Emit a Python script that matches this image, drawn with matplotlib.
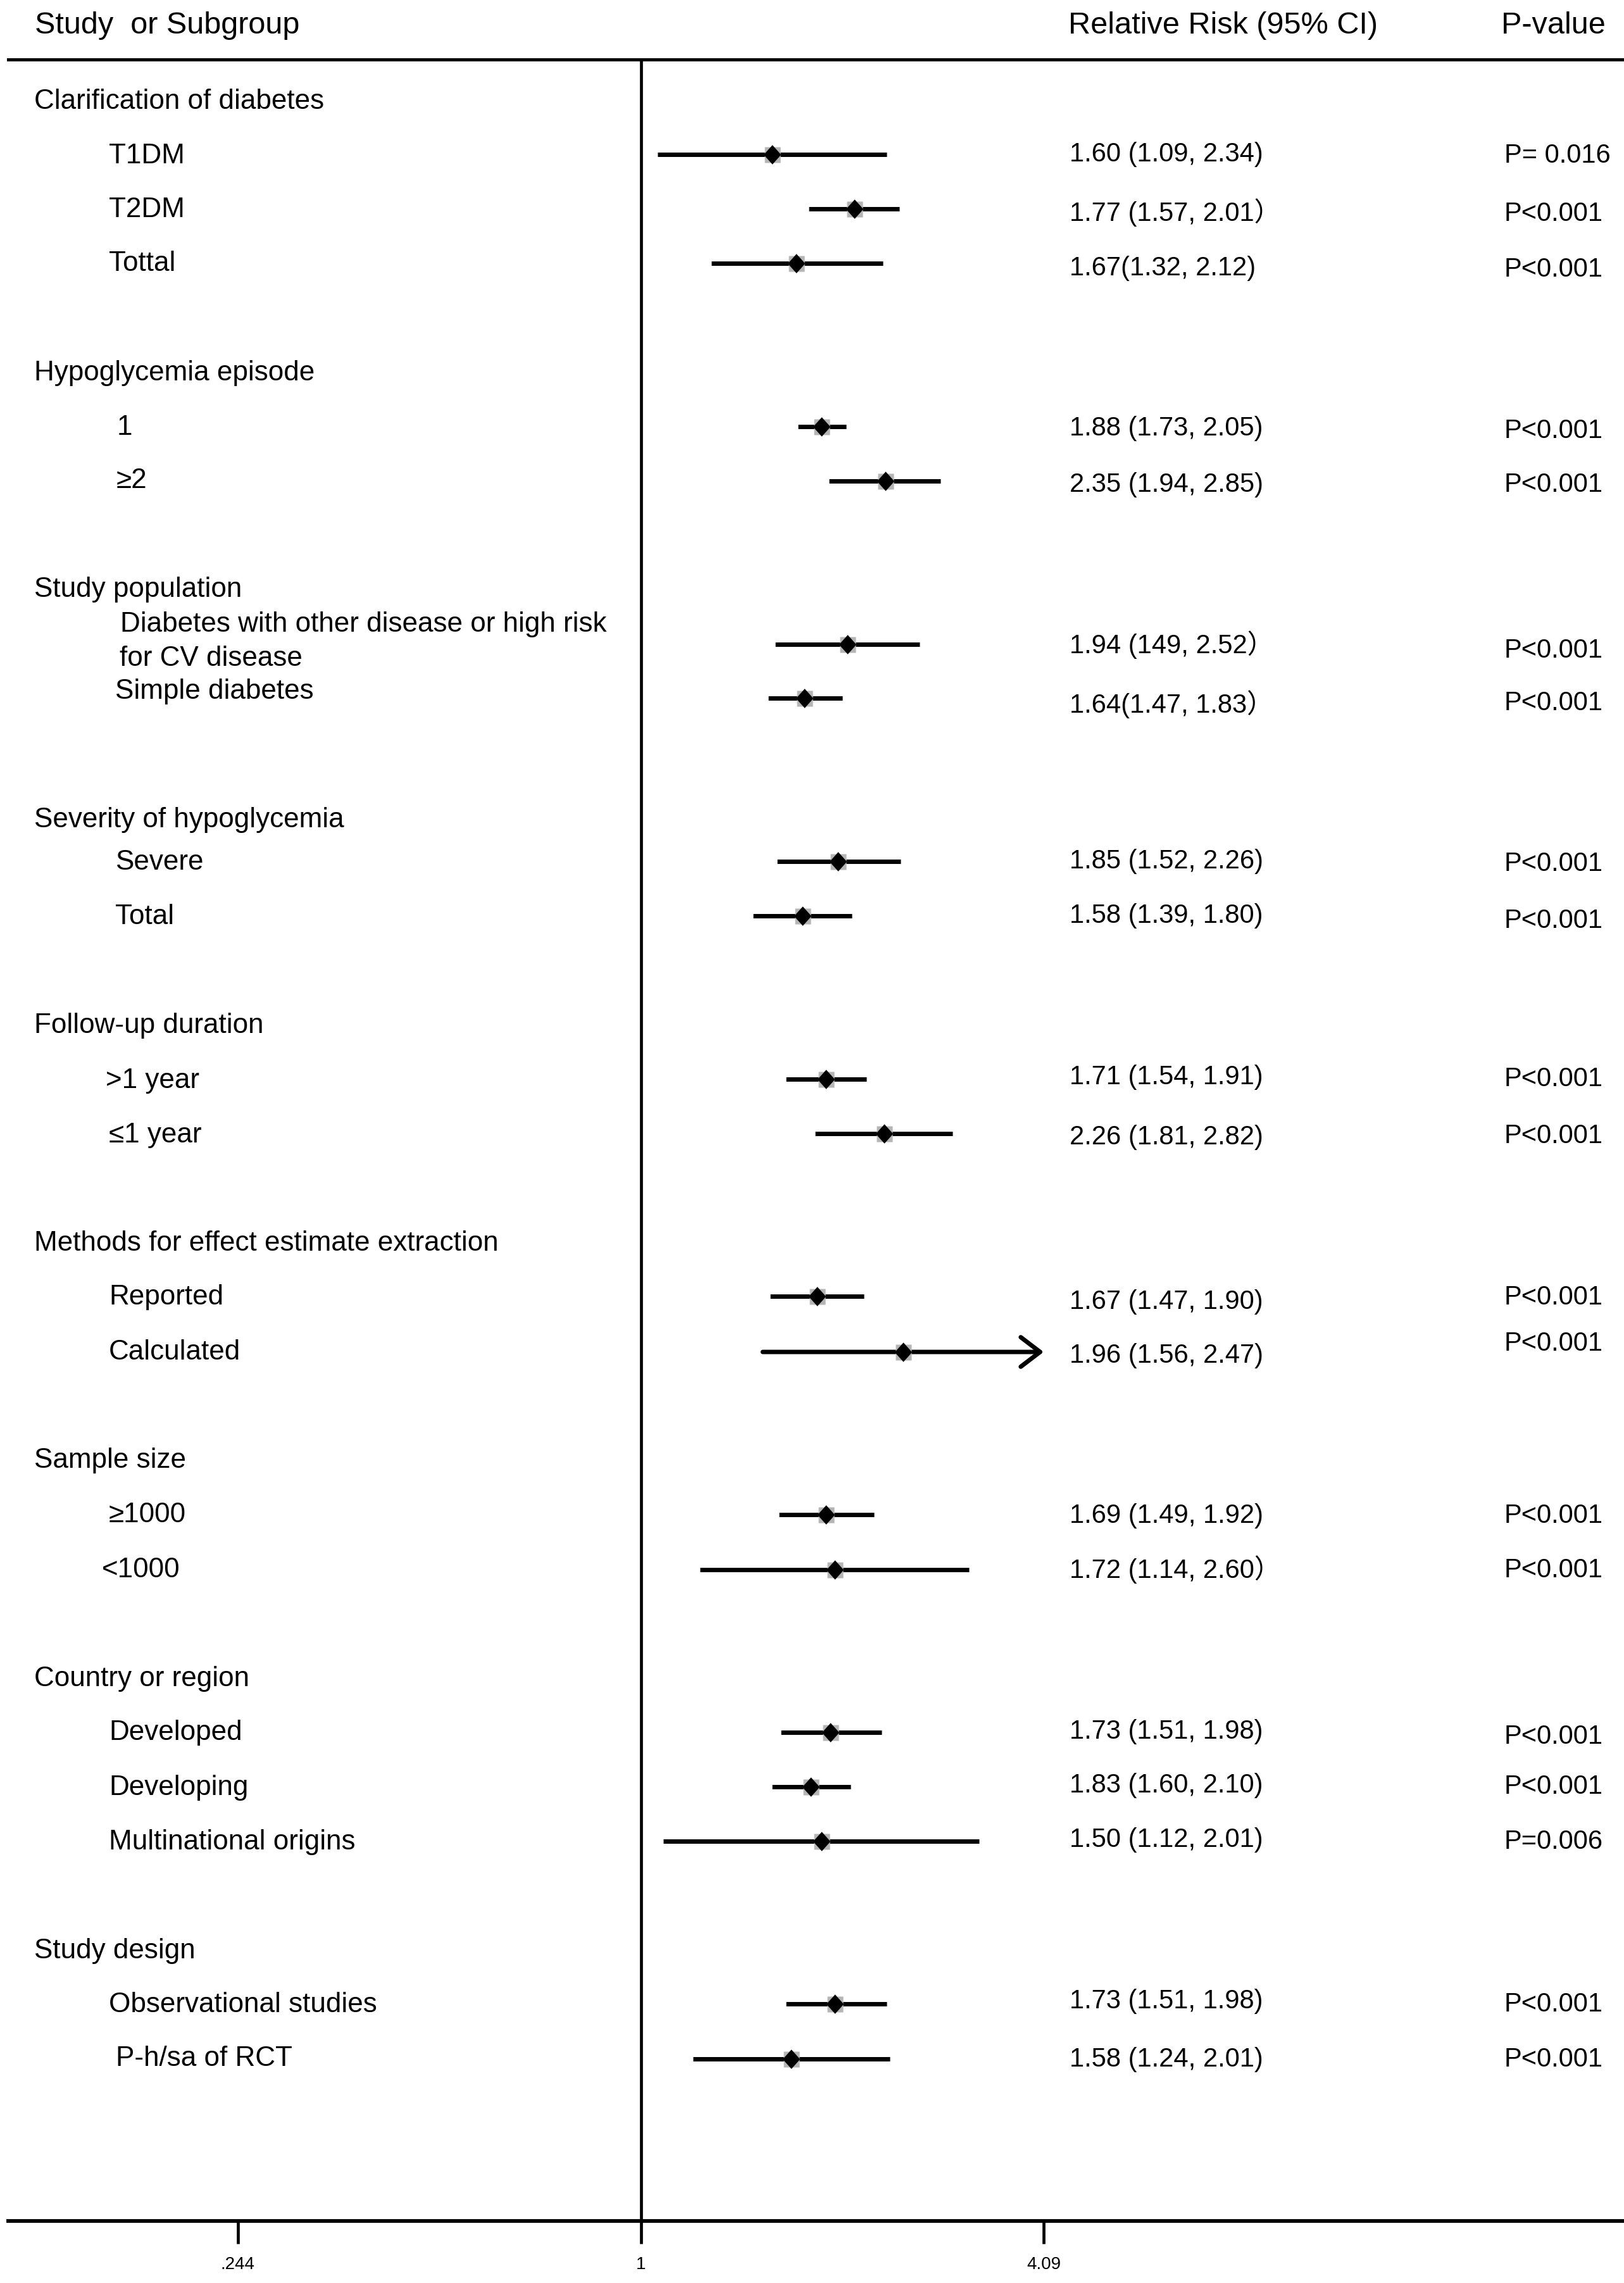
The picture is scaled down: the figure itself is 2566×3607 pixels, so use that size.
import numpy as np
import matplotlib
matplotlib.use("Agg")
import matplotlib.pyplot as plt
from matplotlib.ticker import NullLocator

plt.rcParams['font.family'] = ['Liberation Sans', 'Noto Sans CJK SC', 'DejaVu Sans']

# ---- data ----
groups = ["Clarification of diabetes", "Hypoglycemia episode", "Study population",
          "Severity of hypoglycemia", "Follow-up duration",
          "Methods for effect estimate extraction", "Sample size",
          "Country or region", "Study design"]

labels = ["T1DM", "T2DM", "Tottal", "1", "\u22652",
          "Diabetes with other disease or high risk\nfor CV disease", "Simple diabetes",
          "Severe", "Total", ">1 year", "\u22641 year", "Reported", "Calculated",
          "\u22651000", "<1000", "Developed", "Developing", "Multinational origins",
          "Observational studies", "P-h/sa of RCT"]

# plotted estimates (as drawn on the log axis)
rr_point = [1.58, 2.11, 1.72, 1.88, 2.35, 2.06, 1.77, 1.99, 1.76, 1.91, 2.34,
            1.85, 2.50, 1.91, 1.97, 1.94, 1.81, 1.88, 1.97, 1.69]
rr_low = [1.06, 1.80, 1.28, 1.73, 1.93, 1.60, 1.56, 1.61, 1.48, 1.66, 1.84,
          1.57, 1.53, 1.62, 1.23, 1.63, 1.58, 1.08, 1.66, 1.20]
rr_high = [2.36, 2.47, 2.33, 2.05, 2.85, 2.65, 2.02, 2.48, 2.09, 2.20, 2.97,
           2.18, 4.09, 2.26, 3.15, 2.32, 2.08, 3.26, 2.36, 2.39]
arrow_row = "Calculated"   # upper limit runs off the axis

rr_text = ["1.60 (1.09, 2.34)", "1.77 (1.57, 2.01\uff09", "1.67(1.32, 2.12)",
           "1.88 (1.73, 2.05)", "2.35 (1.94, 2.85)", "1.94 (149, 2.52\uff09",
           "1.64(1.47, 1.83\uff09", "1.85 (1.52, 2.26)", "1.58 (1.39, 1.80)",
           "1.71 (1.54, 1.91)", "2.26 (1.81, 2.82)", "1.67 (1.47, 1.90)",
           "1.96 (1.56, 2.47)", "1.69 (1.49, 1.92)", "1.72 (1.14, 2.60\uff09",
           "1.73 (1.51, 1.98)", "1.83 (1.60, 2.10)", "1.50 (1.12, 2.01)",
           "1.73 (1.51, 1.98)", "1.58 (1.24, 2.01)"]
p_text = ["P= 0.016"] + ["P<0.001"] * 16 + ["P=0.006"] + ["P<0.001"] * 2

tick_vals = [0.244, 1, 4.09]
tick_labels = [".244", "1", "4.09"]

# ---- layout (image pixels) ----
W, H = 2566, 3607
group_y = [157, 586, 928, 1292, 1617, 1961, 2304, 2649, 3079]
label_x = [172, 172, 172, 185, 184, 190, 182, 182, 182, 167, 172, 172, 172,
           172, 161, 172, 172, 172, 172, 183]
label_y = [243, 328, 413, 672, 756, 983, 1089, 1359, 1445, 1704, 1790, 2046, 2133,
           2390, 2477, 2734, 2821, 2907, 3164, 3249]
mark_y = [244, 330, 416, 674, 760, 1018, 1103, 1361, 1447, 1705, 1791, 2048, 2136,
          2393, 2480, 2737, 2823, 2909, 3166, 3253]
rr_y = [240, 334, 420, 673, 762, 1017, 1111, 1357, 1443, 1698, 1793, 2053, 2138,
        2391, 2478, 2732, 2817, 2903, 3158, 3250]
p_y = [242, 334, 422, 677, 762, 1024, 1107, 1361, 1451, 1701, 1791, 2046, 2119,
       2391, 2477, 2740, 2819, 2906, 3163, 3250]

FS = 31.7       # row labels
FS_HEAD = 35    # column headers
FS_NUM = 30     # numeric columns
x_one, px_per_ln = 1013, 451.6
top_line, bottom_line, left_edge = 94, 3509, 13

fig = plt.figure(figsize=(W / 100, H / 100), dpi=100)

ax = fig.add_axes([left_edge / W, (H - bottom_line) / H,
                   (W - left_edge) / W, (bottom_line - top_line) / H])
ax.set_xscale('log')
ax.set_xlim(np.exp((left_edge - x_one) / px_per_ln), np.exp((W - x_one) / px_per_ln))
ax.set_ylim(bottom_line, top_line)
for side in ['left', 'right']:
    ax.spines[side].set_visible(False)
ax.spines['top'].set_linewidth(3.6)
ax.spines['bottom'].set_linewidth(4.2)
ax.xaxis.set_minor_locator(NullLocator())
ax.set_xticks(tick_vals, labels=tick_labels)
ax.set_yticks([])
ax.tick_params(axis='x', direction='out', length=26, width=3.4, pad=14, labelsize=20)
ax.axvline(1, color='black', lw=3.4, zorder=1)

# confidence intervals
for lbl, lo, hi, y in zip(labels, rr_low, rr_high, mark_y):
    if lbl == arrow_row:
        ax.annotate('', xy=(max(tick_vals), y), xytext=(lo, y),
                    arrowprops=dict(arrowstyle='->,head_length=0.55,head_width=0.42',
                                    lw=5, color='black', shrinkA=0, shrinkB=0,
                                    mutation_scale=40))
    else:
        ax.hlines(y, lo, hi, color='black', lw=5, zorder=2)

diamond = [(0, -1), (0.9, 0), (0, 1), (-0.9, 0), (0, -1)]
ax.plot(rr_point, mark_y, ls='none', marker='s', ms=18, color='#b5b5b5', mec='none', zorder=3)
ax.plot(rr_point, mark_y, ls='none', marker=diamond, ms=22, color='black', mec='none', zorder=4)

# text overlay
tax = fig.add_axes([0, 0, 1, 1])
tax.set_xlim(0, W)
tax.set_ylim(H, 0)
tax.axis('off')
tax.patch.set_alpha(0)

def put(x, y, s, size=FS):
    tax.text(x, y + 15, s, fontsize=size, ha='left', va='baseline')

put(55, 38, "Study  or Subgroup", FS_HEAD)
put(1688, 38, "Relative Risk (95% CI)", FS_HEAD)
put(2372, 38, "P-value", FS_HEAD)

for g, y in zip(groups, group_y):
    put(54, y, g)

for lbl, x, y in zip(labels, label_x, label_y):
    if "\n" in lbl:
        first, second = lbl.split("\n")
        put(x, y, first)
        put(x - 1, y + 54, second)
    else:
        put(x, y, lbl)

for s, y in zip(rr_text, rr_y):
    put(1690, y, s, FS_NUM)
for s, y in zip(p_text, p_y):
    put(2377, y, s, FS_NUM)

fig.savefig("out.png", dpi=100)
